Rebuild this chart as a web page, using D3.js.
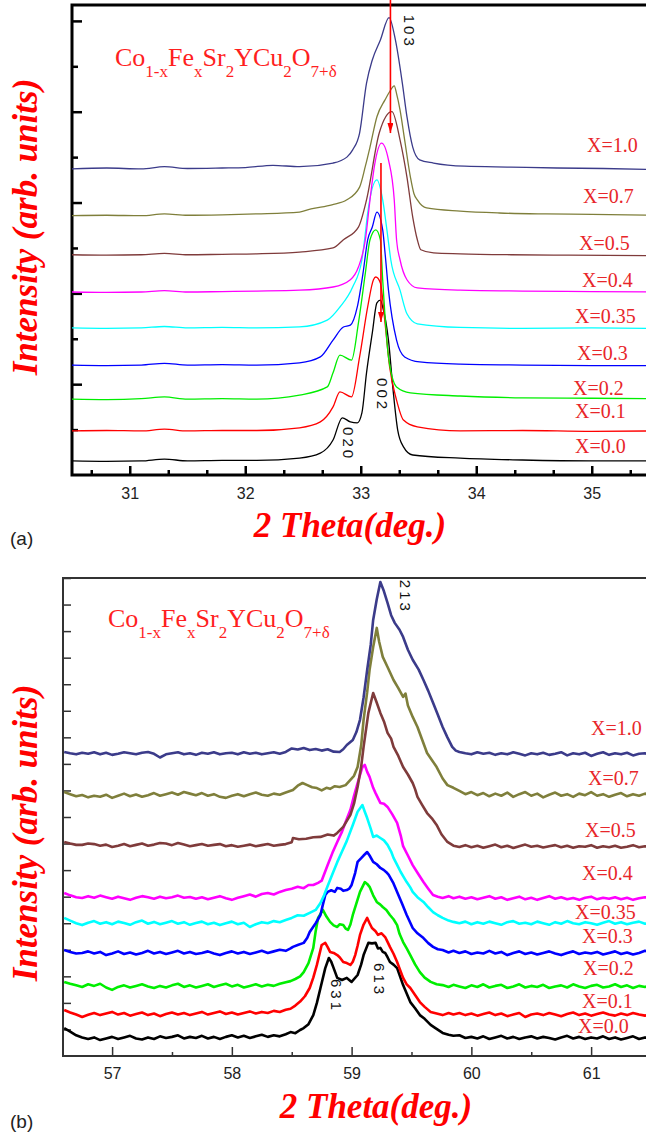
<!DOCTYPE html>
<html lang="en">
  <head>
    <meta charset="utf-8" />
    <title>XRD patterns of Co1-xFexSr2YCu2O7+δ</title>
    <script src="https://cdn.jsdelivr.net/npm/d3@7"></script>
    <style>
      body {
        margin: 0;
        background: #fff;
      }

      svg {
        display: block;
      }

      .tick text {
        font-family: "Liberation Sans", Arial, sans-serif;
        font-size: 16px;
        fill: #222;
      }

      .serif {
        font-family: "Liberation Serif", "Times New Roman", Times, "DejaVu Serif", serif;
      }

      .axis-title {
        font-family: "Liberation Serif", "Times New Roman", Times, "DejaVu Serif", serif;
        font-weight: bold;
        font-style: italic;
        font-size: 35px;
        fill: #f00;
      }

      .hkl {
        font-family: "Liberation Sans", Arial, sans-serif;
        font-size: 15px;
        letter-spacing: 3px;
        fill: #111;
      }

      .comp {
        font-family: "Liberation Serif", "Times New Roman", Times, "DejaVu Serif", serif;
        font-size: 20px;
        fill: #e8262a;
      }

      .panel-tag {
        font-family: "Liberation Sans", Arial, sans-serif;
        font-size: 19px;
        fill: #222;
      }
    </style>
  </head>

  <body>
    <svg id="chart" width="646" height="1133"></svg>

    <script>
      // ---------- shared ----------
      const compositions = ["X=0.0", "X=0.1", "X=0.2", "X=0.3", "X=0.35", "X=0.4", "X=0.5", "X=0.7", "X=1.0"];
      const traceColors = ["#000000", "#ff0000", "#00ee00", "#0000ff", "#00ffff", "#ff00ff", "#7f3b3b", "#7f7f3b", "#3b3b8a"];

      // ---------- panel (a): 2 Theta 30.5 - 35.5 ----------
      const thetaTicksA = [31, 32, 33, 34, 35];
      const hklA = [
        { label: "103", x: 33.418, y: 9.76 },
        { label: "002", x: 33.184, y: 1.76 },
        { label: "020", x: 32.89, y: 0.68 }
      ];

      const a_x00 = [[30.5,0.31],[30.8,0.30],[31.1,0.31],[31.3,0.35],[31.5,0.31],[31.8,0.32],[32.1,0.32],[32.47,0.37],[32.65,0.48],[32.76,0.77],[32.84,1.26],[32.91,1.17],[32.97,1.15],[33.01,1.37],[33.05,2.25],[33.10,3.13],[33.14,3.79],[33.17,3.85],[33.19,3.70],[33.24,2.97],[33.28,1.87],[33.32,0.99],[33.37,0.62],[33.45,0.44],[33.86,0.37],[34.4,0.33],[35.0,0.31],[35.5,0.31]];
      const a_x01 = [[30.5,0.97],[30.8,0.98],[31.1,0.97],[31.3,1.01],[31.5,0.97],[31.8,0.98],[32.1,0.98],[32.47,1.04],[32.65,1.17],[32.76,1.50],[32.82,1.83],[32.92,1.72],[32.99,2.60],[33.06,3.70],[33.11,4.30],[33.13,4.36],[33.17,4.23],[33.21,3.35],[33.25,2.38],[33.31,1.65],[33.37,1.21],[33.49,1.06],[33.86,0.97],[34.4,0.98],[35.0,0.96],[35.5,0.97]];
      const a_x02 = [[30.5,1.67],[30.8,1.66],[31.1,1.68],[31.3,1.72],[31.5,1.67],[31.8,1.68],[32.1,1.67],[32.47,1.76],[32.71,1.94],[32.76,2.25],[32.82,2.64],[32.92,2.53],[32.98,3.35],[33.04,4.45],[33.08,5.18],[33.13,5.40],[33.17,5.18],[33.19,4.30],[33.24,2.60],[33.31,1.94],[33.43,1.81],[33.86,1.74],[34.4,1.70],[35.0,1.69],[35.5,1.68]];
      const a_x03 = [[30.5,2.42],[30.8,2.41],[31.1,2.42],[31.3,2.46],[31.5,2.42],[31.8,2.43],[32.1,2.42],[32.47,2.47],[32.65,2.60],[32.76,2.97],[32.85,3.26],[32.91,3.30],[32.97,3.70],[33.02,4.45],[33.06,5.18],[33.10,5.46],[33.14,5.79],[33.19,5.40],[33.21,4.9],[33.24,4.07],[33.31,2.97],[33.38,2.60],[33.51,2.49],[33.86,2.44],[34.4,2.42],[35.0,2.41],[35.5,2.41]];
      const a_x035 = [[30.5,3.24],[30.8,3.23],[31.1,3.24],[31.3,3.27],[31.5,3.24],[31.8,3.25],[32.1,3.24],[32.47,3.26],[32.71,3.41],[32.82,3.70],[32.93,4.14],[33.01,4.74],[33.04,5.33],[33.06,5.77],[33.14,6.50],[33.19,6.06],[33.23,5.33],[33.26,4.74],[33.34,4.07],[33.40,3.55],[33.49,3.33],[33.86,3.25],[34.4,3.23],[35.0,3.24],[35.5,3.23]];
      const a_x04 = [[30.5,4.03],[30.8,4.02],[31.1,4.03],[31.3,4.06],[31.5,4.03],[31.8,4.04],[32.1,4.05],[32.47,4.07],[32.76,4.14],[32.91,4.30],[32.98,4.58],[33.04,5.18],[33.08,6.06],[33.12,6.83],[33.18,7.31],[33.24,6.94],[33.29,6.06],[33.31,5.18],[33.34,4.74],[33.40,4.30],[33.49,4.12],[33.86,4.07],[34.4,4.05],[35.0,4.04],[35.5,4.03]];
      const a_x05 = [[30.5,4.85],[30.8,4.84],[31.1,4.85],[31.3,4.88],[31.5,4.85],[31.8,4.86],[32.1,4.87],[32.47,4.91],[32.76,5.0],[32.85,5.18],[32.98,5.46],[33.05,6.06],[33.16,7.53],[33.27,8.0],[33.34,7.38],[33.40,6.56],[33.45,5.68],[33.49,5.18],[33.52,4.96],[33.63,4.89],[33.86,4.87],[34.3,4.85],[34.8,4.84],[35.5,4.83]];
      const a_x07 = [[30.5,5.71],[30.8,5.72],[31.1,5.71],[31.3,5.75],[31.5,5.72],[31.8,5.73],[32.1,5.75],[32.47,5.79],[32.57,5.86],[32.75,5.95],[32.88,6.06],[32.99,6.34],[33.04,6.8],[33.08,7.22],[33.14,7.89],[33.21,8.26],[33.25,8.44],[33.29,8.57],[33.31,8.4],[33.34,8.04],[33.38,7.38],[33.43,6.56],[33.46,6.2],[33.49,6.06],[33.57,5.88],[33.86,5.81],[34.2,5.77],[34.6,5.75],[35.0,5.74],[35.5,5.72]];
      const a_x10 = [[30.5,6.74],[30.8,6.76],[31.1,6.74],[31.3,6.79],[31.5,6.75],[31.8,6.76],[32.0,6.77],[32.24,6.82],[32.47,6.79],[32.76,6.87],[32.88,7.0],[32.93,7.16],[32.99,7.53],[33.05,8.63],[33.10,9.14],[33.17,9.58],[33.245,10.07],[33.30,9.58],[33.36,8.63],[33.40,7.89],[33.45,7.22],[33.51,6.94],[33.63,6.87],[33.9,6.80],[34.3,6.78],[34.7,6.76],[35.1,6.75],[35.5,6.73]];

      // ---------- panel (b): 2 Theta 56.6 - 61.5 ----------
      const thetaTicksB = [57, 58, 59, 60, 61];
      const hklB = [
        { label: "213", x: 59.447, y: 17.29 },
        { label: "631", x: 58.871, y: 2.26 },
        { label: "613", x: 59.23, y: 2.86 }
      ];

      // background sampling positions (left and right of the peaks)
      const thetaLeftB = [56.60,56.65,56.70,56.75,56.80,56.85,56.90,56.95,57.00,57.05,57.10,57.15,57.20,57.25,57.30,57.35,57.40,57.45,57.50,57.55,57.60,57.65,57.70,57.75,57.80,57.85,57.90,57.95,58.00,58.05,58.10,58.15,58.20,58.25,58.30,58.35,58.40,58.45];
      const thetaRightB = [59.90,59.95,60.00,60.05,60.10,60.15,60.20,60.25,60.30,60.35,60.40,60.45,60.50,60.55,60.60,60.65,60.70,60.75,60.80,60.85,60.90,60.95,61.00,61.05,61.10,61.15,61.20,61.25,61.30,61.35,61.40,61.45,61.50];

      // X=0.0
      const b_x00_left = [1.05,0.92,0.78,0.70,0.64,0.70,0.60,0.66,0.72,0.64,0.70,0.76,0.66,0.62,0.70,0.64,0.74,0.68,0.72,0.78,0.66,0.72,0.68,0.76,0.66,0.72,0.64,0.72,0.78,0.70,0.76,0.68,0.74,0.80,0.72,0.78,0.74,0.82];
      const b_x00_peak = [[58.49,0.90],[58.53,0.86],[58.57,0.98],[58.60,1.05],[58.64,1.20],[58.68,1.54],[58.71,2.0],[58.74,2.56],[58.78,3.31],[58.81,3.69],[58.83,3.55],[58.85,3.31],[58.88,2.94],[58.92,2.86],[58.96,2.94],[59.00,2.79],[59.05,3.05],[59.08,3.45],[59.10,3.80],[59.14,4.26],[59.17,4.24],[59.20,4.26],[59.22,4.05],[59.24,4.07],[59.26,3.92],[59.28,3.88],[59.30,3.72],[59.32,3.54],[59.35,3.44],[59.38,3.31],[59.43,2.67],[59.46,2.35],[59.49,2.03],[59.53,1.80],[59.57,1.54],[59.61,1.40],[59.66,1.17],[59.70,1.05],[59.76,0.87],[59.81,0.80],[59.85,0.76]];
      const b_x00_right = [0.78,0.68,0.72,0.66,0.74,0.64,0.70,0.76,0.66,0.72,0.64,0.70,0.74,0.66,0.72,0.68,0.62,0.70,0.76,0.66,0.72,0.64,0.70,0.66,0.74,0.64,0.70,0.62,0.68,0.74,0.64,0.70,0.66];
      // X=0.1
      const b_x01_left = [1.73,1.64,1.56,1.47,1.55,1.62,1.54,1.60,1.66,1.56,1.62,1.52,1.58,1.64,1.54,1.60,1.50,1.58,1.64,1.56,1.62,1.54,1.60,1.66,1.56,1.62,1.68,1.58,1.64,1.56,1.62,1.68,1.60,1.66,1.62,1.70,1.66,1.74];
      const b_x01_peak = [[58.49,1.78],[58.53,1.90],[58.57,2.05],[58.61,2.25],[58.65,2.56],[58.68,2.95],[58.71,3.43],[58.75,4.18],[58.78,4.26],[58.80,4.10],[58.82,3.92],[58.85,3.88],[58.88,3.80],[58.90,3.72],[58.93,3.54],[58.96,3.50],[58.99,3.43],[59.01,3.55],[59.03,3.80],[59.05,4.15],[59.07,4.56],[59.10,4.95],[59.13,5.20],[59.15,5.0],[59.17,4.82],[59.20,4.70],[59.22,4.56],[59.25,4.62],[59.28,4.48],[59.30,4.30],[59.32,4.11],[59.35,3.85],[59.38,3.54],[59.40,3.30],[59.43,2.94],[59.46,2.70],[59.49,2.56],[59.53,2.30],[59.57,2.03],[59.61,1.85],[59.66,1.66],[59.71,1.60],[59.76,1.54],[59.81,1.62],[59.85,1.56]];
      const b_x01_right = [1.62,1.54,1.60,1.52,1.58,1.64,1.54,1.60,1.50,1.56,1.62,1.47,1.56,1.60,1.54,1.62,1.56,1.50,1.58,1.64,1.54,1.60,1.52,1.58,1.64,1.56,1.52,1.60,1.54,1.62,1.56,1.52,1.58];
      // X=0.2
      const b_x02_left = [2.79,2.72,2.66,2.60,2.70,2.64,2.72,2.58,2.49,2.60,2.66,2.58,2.64,2.70,2.62,2.56,2.64,2.58,2.66,2.72,2.60,2.66,2.58,2.64,2.70,2.60,2.66,2.72,2.62,2.68,2.58,2.64,2.70,2.62,2.68,2.64,2.72,2.78];
      const b_x02_peak = [[58.49,2.82],[58.53,2.90],[58.57,3.00],[58.60,3.16],[58.64,3.50],[58.68,4.07],[58.70,4.70],[58.72,5.20],[58.76,5.50],[58.79,5.25],[58.82,5.05],[58.85,4.92],[58.88,4.86],[58.90,4.96],[58.93,4.93],[58.95,4.80],[58.97,4.75],[58.99,4.95],[59.01,5.31],[59.04,5.75],[59.07,6.18],[59.11,6.55],[59.13,6.48],[59.15,6.37],[59.18,6.05],[59.21,5.80],[59.24,5.70],[59.26,5.61],[59.29,5.50],[59.32,5.31],[59.35,5.15],[59.38,4.93],[59.40,4.60],[59.43,4.29],[59.46,4.05],[59.49,3.80],[59.53,3.45],[59.57,3.16],[59.61,2.95],[59.66,2.79],[59.71,2.70],[59.76,2.67],[59.81,2.60],[59.85,2.68]];
      const b_x02_right = [2.62,2.56,2.66,2.60,2.70,2.58,2.64,2.68,2.56,2.62,2.70,2.58,2.64,2.60,2.68,2.56,2.62,2.66,2.58,2.70,2.62,2.56,2.64,2.68,2.58,2.62,2.70,2.60,2.66,2.56,2.64,2.60,2.66];
      // X=0.3
      const b_x03_left = [3.99,3.92,3.86,3.88,3.94,3.86,3.92,3.80,3.86,3.94,3.84,3.90,3.82,3.88,3.96,3.86,3.92,3.84,3.90,3.96,3.86,3.92,3.84,3.88,3.94,3.86,3.80,3.88,3.94,3.86,3.92,3.84,3.90,3.96,3.88,3.94,4.00,3.96];
      const b_x03_peak = [[58.49,4.05],[58.51,4.11],[58.55,4.18],[58.60,4.26],[58.63,4.45],[58.65,4.67],[58.70,5.0],[58.74,5.31],[58.76,5.70],[58.78,6.06],[58.80,6.18],[58.83,6.24],[58.86,6.18],[58.88,6.33],[58.91,6.30],[58.93,6.22],[58.96,6.25],[58.98,6.30],[59.00,6.44],[59.03,6.90],[59.05,7.31],[59.08,7.45],[59.10,7.55],[59.13,7.68],[59.15,7.55],[59.18,7.31],[59.21,7.22],[59.24,7.08],[59.27,7.00],[59.29,6.92],[59.31,6.82],[59.35,6.50],[59.38,6.18],[59.42,5.75],[59.46,5.31],[59.51,4.82],[59.55,4.62],[59.60,4.44],[59.64,4.25],[59.68,4.11],[59.72,4.02],[59.76,3.99],[59.81,3.90],[59.85,3.96]];
      const b_x03_right = [3.88,3.94,3.84,3.90,3.86,3.96,3.86,3.92,3.80,3.88,3.94,3.84,3.90,3.82,3.88,3.94,3.86,3.80,3.88,3.94,3.84,3.90,3.86,3.92,3.82,3.88,3.94,3.84,3.90,3.82,3.88,3.96,3.90];
      // X=0.35
      const b_x035_left = [5.20,5.10,5.00,4.93,5.02,5.08,4.98,5.04,4.96,5.06,5.01,4.94,5.04,5.10,4.98,5.05,4.96,5.02,5.08,4.98,5.04,4.94,5.01,5.06,4.96,5.02,4.93,5.00,5.06,4.96,5.02,4.86,4.96,5.04,5.00,5.08,5.04,5.12];
      const b_x035_peak = [[58.50,5.20],[58.55,5.30],[58.60,5.28],[58.65,5.39],[58.70,5.50],[58.74,5.76],[58.77,6.05],[58.80,6.40],[58.84,6.85],[58.88,7.30],[58.92,7.70],[58.96,8.10],[59.01,8.70],[59.05,9.20],[59.09,9.45],[59.11,9.20],[59.13,8.96],[59.16,8.55],[59.18,8.25],[59.21,8.30],[59.24,8.21],[59.27,8.12],[59.30,7.95],[59.33,7.70],[59.35,7.46],[59.38,7.20],[59.41,6.93],[59.44,6.70],[59.46,6.55],[59.49,6.35],[59.51,6.18],[59.55,5.98],[59.60,5.80],[59.64,5.60],[59.68,5.42],[59.72,5.30],[59.76,5.20],[59.81,5.10],[59.85,5.05]];
      const b_x035_right = [5.00,5.06,4.96,5.04,4.98,5.06,5.00,4.94,5.04,5.08,4.98,5.02,4.96,5.06,5.00,4.94,5.04,4.98,5.08,5.00,4.96,5.04,5.00,4.94,5.02,5.08,4.98,5.04,4.96,5.02,5.06,4.98,5.01];
      // X=0.4
      const b_x04_left = [6.14,6.05,5.98,5.95,6.02,5.96,6.04,5.98,5.92,6.00,5.94,5.88,5.96,6.02,5.98,5.92,6.00,5.94,5.98,6.04,5.96,5.99,5.92,5.98,5.90,5.96,6.02,5.94,5.88,5.96,6.02,6.08,6.00,6.10,6.14,6.08,6.18,6.25];
      const b_x04_peak = [[58.50,6.30],[58.55,6.37],[58.60,6.32],[58.64,6.44],[58.68,6.44],[58.72,6.52],[58.75,6.60],[58.80,7.19],[58.84,7.65],[58.88,8.06],[58.92,8.45],[58.95,8.81],[58.99,9.27],[59.02,9.80],[59.05,10.28],[59.09,10.88],[59.11,10.96],[59.13,10.70],[59.15,10.51],[59.18,10.10],[59.20,9.90],[59.24,9.53],[59.27,9.50],[59.30,9.38],[59.34,9.10],[59.38,8.78],[59.41,8.30],[59.43,7.90],[59.47,7.55],[59.51,7.19],[59.55,6.90],[59.60,6.55],[59.64,6.30],[59.68,6.06],[59.72,6.00],[59.76,5.95],[59.81,6.02],[59.85,5.94]];
      const b_x04_right = [6.00,5.92,5.98,5.90,5.96,6.02,5.92,5.98,5.88,5.94,6.00,5.90,5.96,5.88,5.95,6.02,5.92,5.98,5.90,5.95,5.88,5.96,6.00,5.90,5.96,5.92,5.98,5.90,5.96,5.88,5.94,5.98,5.94];
      // X=0.5
      const b_x05_left = [8.06,8.00,7.95,7.95,8.00,7.98,7.92,7.96,7.87,7.92,7.98,7.90,7.95,8.00,7.92,7.96,8.02,8.00,7.94,8.02,7.96,7.90,7.94,7.98,7.92,7.95,7.98,7.90,7.94,7.88,7.92,7.96,7.90,7.94,7.98,7.92,7.95,7.98];
      const b_x05_peak = [[58.50,8.05],[58.51,8.21],[58.56,8.16],[58.62,8.18],[58.68,8.24],[58.74,8.25],[58.80,8.34],[58.85,8.30],[58.88,8.40],[58.93,8.63],[58.99,9.08],[59.02,9.50],[59.05,10.13],[59.08,10.90],[59.10,11.64],[59.14,12.92],[59.18,13.67],[59.21,13.30],[59.24,12.92],[59.27,12.60],[59.30,12.17],[59.33,11.95],[59.35,11.64],[59.39,11.30],[59.43,10.88],[59.47,10.60],[59.51,10.28],[59.53,10.05],[59.55,9.76],[59.59,9.45],[59.63,9.15],[59.67,8.95],[59.71,8.70],[59.75,8.35],[59.80,8.06],[59.85,7.92]];
      const b_x05_right = [7.87,7.94,7.86,7.92,7.84,7.90,7.96,7.86,7.92,7.83,7.90,7.96,7.88,7.92,7.85,7.90,7.94,7.86,7.92,7.84,7.90,7.88,7.94,7.84,7.90,7.86,7.92,7.84,7.88,7.94,7.86,7.90,7.87];
      // X=0.7
      const b_x07_left = [9.94,9.86,9.78,9.83,9.74,9.80,9.76,9.84,9.72,9.80,9.88,9.78,9.85,9.76,9.82,9.90,9.80,9.86,9.92,9.84,9.94,9.88,9.82,9.90,9.80,9.86,9.76,9.72,9.80,9.86,9.78,9.86,9.92,9.84,9.80,9.88,9.84,9.92];
      const b_x07_peak = [[58.51,10.02],[58.55,10.18],[58.59,10.28],[58.63,10.20],[58.67,10.12],[58.71,10.09],[58.75,10.00],[58.79,10.10],[58.82,10.06],[58.86,10.16],[58.90,10.13],[58.95,10.20],[58.99,10.40],[59.02,10.55],[59.05,10.88],[59.08,11.70],[59.10,12.66],[59.13,13.70],[59.15,14.54],[59.18,15.40],[59.21,16.12],[59.23,15.60],[59.26,15.03],[59.30,14.65],[59.35,14.16],[59.39,13.85],[59.43,13.52],[59.45,13.65],[59.47,13.20],[59.51,12.77],[59.55,12.39],[59.59,11.90],[59.63,11.41],[59.67,11.15],[59.71,10.88],[59.76,10.45],[59.80,10.20],[59.85,10.10]];
      const b_x07_right = [9.98,9.86,9.94,9.82,9.90,9.78,9.88,9.80,9.92,9.76,9.86,9.94,9.80,9.88,9.74,9.84,9.92,9.80,9.86,9.76,9.88,9.82,9.94,9.80,9.86,9.76,9.84,9.90,9.78,9.86,9.80,9.88,9.82];
      // X=1.0
      const b_x10_left = [11.45,11.40,11.36,11.42,11.38,11.44,11.36,11.42,11.34,11.38,11.44,11.40,11.36,11.42,11.45,11.38,11.24,11.36,11.40,11.44,11.36,11.40,11.34,11.42,11.38,11.44,11.36,11.40,11.42,11.36,11.44,11.38,11.42,11.36,11.40,11.44,11.38,11.45];
      const b_x10_peak = [[58.50,11.58],[58.55,11.54],[58.60,11.60],[58.65,11.52],[58.70,11.56],[58.75,11.50],[58.80,11.55],[58.85,11.46],[58.90,11.45],[58.93,11.55],[58.96,11.71],[59.01,11.90],[59.04,12.20],[59.07,12.66],[59.10,13.50],[59.13,14.54],[59.16,15.50],[59.18,16.42],[59.21,17.20],[59.24,17.85],[59.27,17.50],[59.30,17.06],[59.33,16.60],[59.36,16.31],[59.40,16.05],[59.43,15.78],[59.47,15.30],[59.51,14.92],[59.56,14.55],[59.60,14.16],[59.64,13.75],[59.68,13.30],[59.72,12.85],[59.76,12.39],[59.80,12.00],[59.84,11.64],[59.87,11.50]];
      const b_x10_right = [11.45,11.40,11.36,11.44,11.38,11.42,11.34,11.40,11.36,11.44,11.38,11.32,11.40,11.36,11.42,11.34,11.38,11.44,11.32,11.40,11.36,11.42,11.30,11.38,11.44,11.34,11.40,11.36,11.42,11.32,11.38,11.40,11.34];

      function joinTrace(left, peak, right) {
        return thetaLeftB.map((t, i) => [t, left[i]])
          .concat(peak)
          .concat(thetaRightB.map((t, i) => [t, right[i]]));
      }

      const tracesA = [a_x00, a_x01, a_x02, a_x03, a_x035, a_x04, a_x05, a_x07, a_x10];
      const tracesB = [
        joinTrace(b_x00_left, b_x00_peak, b_x00_right),
        joinTrace(b_x01_left, b_x01_peak, b_x01_right),
        joinTrace(b_x02_left, b_x02_peak, b_x02_right),
        joinTrace(b_x03_left, b_x03_peak, b_x03_right),
        joinTrace(b_x035_left, b_x035_peak, b_x035_right),
        joinTrace(b_x04_left, b_x04_peak, b_x04_right),
        joinTrace(b_x05_left, b_x05_peak, b_x05_right),
        joinTrace(b_x07_left, b_x07_peak, b_x07_right),
        joinTrace(b_x10_left, b_x10_peak, b_x10_right)
      ];

      /////////////////////////

      const svg = d3.select("#chart");
      svg.append("rect").attr("width", 646).attr("height", 1133).attr("fill", "#fff");

      // arrowhead for the red shift markers
      svg
        .append("defs")
        .append("marker")
        .attr("id", "arrowRed")
        .attr("viewBox", "0 0 10 6")
        .attr("refX", 10)
        .attr("refY", 3)
        .attr("markerWidth", 10)
        .attr("markerHeight", 6)
        .attr("markerUnits", "userSpaceOnUse")
        .attr("orient", "auto")
        .append("path")
        .attr("d", "M0,0 L10,3 L0,6 z")
        .attr("fill", "#f00");

      function formula(g, x, y, sub) {
        // Co1-xFexSr2YCu2O7+δ with subscripts
        const parts = [
          ["Co", 0], ["1-x", 1], ["Fe", 0], ["x", 1], ["Sr", 0], ["2", 1],
          ["YCu", 0], ["2", 1], ["O", 0], ["7+δ", 1]
        ];
        const t = g.append("text").attr("class", "serif").attr("x", x).attr("y", y).attr("fill", "#ff1f1f");
        let level = 0;
        parts.forEach(([s, lv]) => {
          t.append("tspan")
            .attr("dy", lv === level ? 0 : lv ? sub : -sub)
            .attr("font-size", lv ? 17 : 26)
            .text(s);
          level = lv;
        });
      }

      function panel(opts) {
        const { xDomain, xRange, yDomain, yRange, traces, ticks, minorStep, frameWidth, frameColor, lineWidth, curve } = opts;
        const x = d3.scaleLinear().domain(xDomain).range(xRange);
        const y = d3.scaleLinear().domain(yDomain).range(yRange);
        const g = svg.append("g");

        const bottom = yRange[0];
        const top = yRange[1];
        const left = xRange[0];

        // minor x ticks
        const minorVals = d3.range(Math.ceil(xDomain[0] / minorStep), Math.floor(xDomain[1] / minorStep) + 1)
          .map(k => k * minorStep)
          .filter(v => Math.abs(v - Math.round(v)) > 1e-6);
        g.append("g")
          .attr("transform", `translate(0,${bottom})`)
          .call(d3.axisBottom(x).tickValues(minorVals).tickSize(-opts.minorLen).tickFormat(""))
          .call(s => s.select(".domain").remove())
          .call(s => s.selectAll("line").attr("stroke", frameColor).attr("stroke-width", opts.tickWidth));

        // major x ticks with labels
        g.append("g")
          .attr("transform", `translate(0,${bottom})`)
          .call(d3.axisBottom(x).tickValues(ticks).tickSize(-opts.majorLen).tickPadding(opts.labelPad).tickFormat(d3.format("d")))
          .call(s => s.select(".domain").remove())
          .call(s => s.selectAll("line").attr("stroke", frameColor).attr("stroke-width", opts.tickWidth));

        // y ticks (no labels)
        const yVals = d3.range(1, Math.floor(yDomain[1]) + 1);
        g.append("g")
          .attr("transform", `translate(${left},0)`)
          .call(d3.axisLeft(y).tickValues(yVals).tickSize(0).tickFormat(""))
          .call(s => s.select(".domain").remove())
          .call(s =>
            s.selectAll(".tick line")
              .attr("x2", d => (d % 2 === 0 ? opts.yMajorLen : opts.yMinorLen))
              .attr("stroke", frameColor)
              .attr("stroke-width", opts.tickWidth)
          );

        // frame
        g.append("rect")
          .attr("x", left)
          .attr("y", top)
          .attr("width", xRange[1] - left)
          .attr("height", bottom - top)
          .attr("fill", "none")
          .attr("stroke", frameColor)
          .attr("stroke-width", frameWidth);

        // traces
        const line = d3.line().x(d => x(d[0])).y(d => y(d[1])).curve(curve);
        g.append("g")
          .selectAll("path")
          .data(traces)
          .join("path")
          .attr("d", line)
          .attr("fill", "none")
          .attr("stroke", (d, i) => traceColors[i])
          .attr("stroke-width", lineWidth)
          .attr("stroke-linejoin", "round");

        return { g, x, y };
      }

      // ---------- draw (a) ----------
      const A = panel({
        xDomain: [30.5, 35.5],
        xRange: [72, 649.5],
        yDomain: [0, 10.35],
        yRange: [475, 5],
        traces: tracesA,
        ticks: thetaTicksA,
        minorStep: 1 / 3,
        minorLen: 5,
        majorLen: 9,
        yMajorLen: 10,
        yMinorLen: 6,
        labelPad: 13,
        tickWidth: 2.5,
        frameWidth: 3,
        frameColor: "#000",
        lineWidth: 1.3,
        curve: d3.curveMonotoneX
      });

      formula(A.g, 115, 66, 11);

      // red shift arrows
      A.g.append("line")
        .attr("x1", A.x(33.257)).attr("x2", A.x(33.257))
        .attr("y1", 0).attr("y2", A.y(7.53))
        .attr("stroke", "#f00").attr("stroke-width", 1.6)
        .attr("marker-end", "url(#arrowRed)");
      A.g.append("line")
        .attr("x1", A.x(33.175)).attr("x2", A.x(33.175))
        .attr("y1", A.y(6.87)).attr("y2", A.y(3.37))
        .attr("stroke", "#f00").attr("stroke-width", 1.6)
        .attr("marker-end", "url(#arrowRed)");

      const labelPosA = [[575, 453], [575, 418], [573, 395], [577, 360], [575, 323], [582, 287], [579, 250], [583, 203], [587, 152]];
      const labelPosB = [[578, 1033], [582, 1008], [583, 975], [582, 943], [575, 919], [582, 880], [585, 837], [588, 785], [591, 735]];

      A.g.selectAll(".compA")
        .data(compositions)
        .join("text")
        .attr("class", "comp")
        .attr("x", (d, i) => labelPosA[i][0])
        .attr("y", (d, i) => labelPosA[i][1])
        .text(d => d);

      A.g.selectAll(".hklA")
        .data(hklA)
        .join("text")
        .attr("class", "hkl")
        .attr("text-anchor", "middle")
        .attr("dominant-baseline", "central")
        .attr("transform", d => `translate(${A.x(d.x)},${A.y(d.y)}) rotate(90)`)
        .text(d => d.label);

      A.g.append("text")
        .attr("class", "axis-title")
        .attr("text-anchor", "middle")
        .attr("transform", "translate(37,227) rotate(-90)")
        .text("Intensity (arb. units)");
      A.g.append("text")
        .attr("class", "axis-title")
        .attr("text-anchor", "middle")
        .attr("x", 350)
        .attr("y", 537)
        .text("2 Theta(deg.)");
      A.g.append("text").attr("class", "panel-tag").attr("x", 10).attr("y", 545).text("(a)");

      // ---------- draw (b) ----------
      const B = panel({
        xDomain: [56.59, 61.5],
        xRange: [63, 651],
        yDomain: [0, 18],
        yRange: [1056, 578],
        traces: tracesB,
        ticks: thetaTicksB,
        minorStep: 0.5,
        minorLen: 4,
        majorLen: 9,
        yMajorLen: 8,
        yMinorLen: 8,
        labelPad: 12,
        tickWidth: 1.5,
        frameWidth: 2,
        frameColor: "#333",
        lineWidth: 2.6,
        curve: d3.curveLinear
      });

      formula(B.g, 108, 627, 11);

      B.g.selectAll(".compB")
        .data(compositions)
        .join("text")
        .attr("class", "comp")
        .attr("x", (d, i) => labelPosB[i][0])
        .attr("y", (d, i) => labelPosB[i][1])
        .text(d => d);

      B.g.selectAll(".hklB")
        .data(hklB)
        .join("text")
        .attr("class", "hkl")
        .attr("text-anchor", "middle")
        .attr("dominant-baseline", "central")
        .attr("transform", d => `translate(${B.x(d.x)},${B.y(d.y)}) rotate(90)`)
        .text(d => d.label);

      B.g.append("text")
        .attr("class", "axis-title")
        .attr("text-anchor", "middle")
        .attr("transform", "translate(37,833) rotate(-90)")
        .text("Intensity (arb. units)");
      B.g.append("text")
        .attr("class", "axis-title")
        .attr("text-anchor", "middle")
        .attr("x", 376)
        .attr("y", 1118)
        .text("2 Theta(deg.)");
      B.g.append("text").attr("class", "panel-tag").attr("x", 10).attr("y", 1128).text("(b)");
    </script>
  </body>
</html>
